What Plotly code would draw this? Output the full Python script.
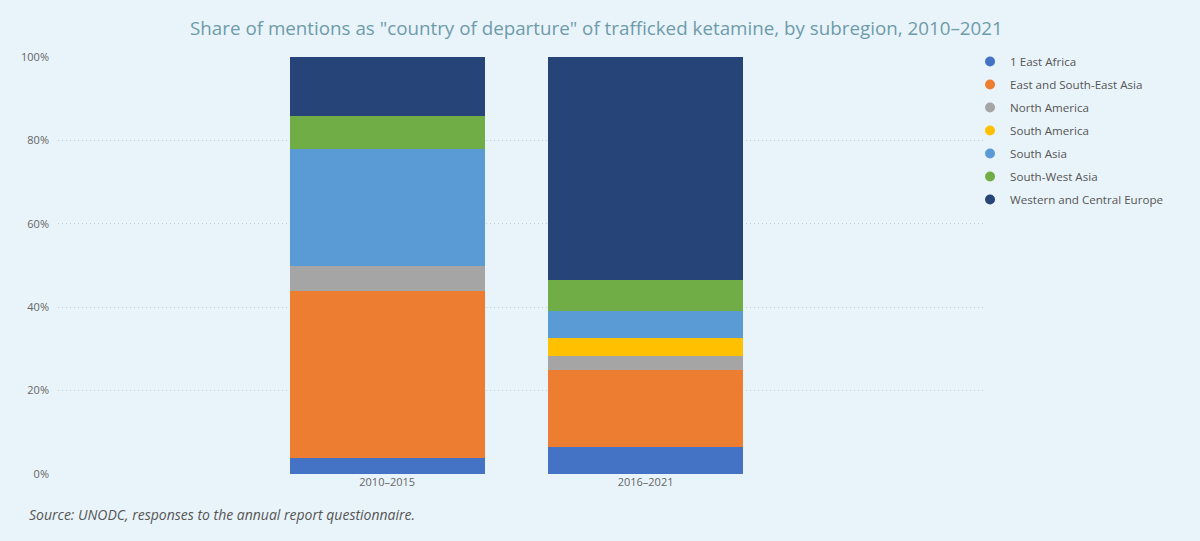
import plotly.graph_objects as go

periods = ["2010–2015", "2016–2021"]
subregions = ["1 East Africa", "East and South-East Asia", "North America", "South America",
              "South Asia", "South-West Asia", "Western and Central Europe"]
east_africa = [3.8, 6.4]
east_se_asia = [40.0, 18.6]
north_america = [6.1, 3.2]
south_america = [0, 4.4]
south_asia = [28.0, 6.4]
south_west_asia = [7.9, 7.6]
west_central_europe = [14.2, 53.4]
colors = ["#4472C4", "#ED7D31", "#A5A5A5", "#FFC000", "#5B9BD5", "#70AD47", "#264478"]

series = [east_africa, east_se_asia, north_america, south_america,
          south_asia, south_west_asia, west_central_europe]

fig = go.Figure()
for name, vals, col in zip(subregions, series, colors):
    fig.add_trace(go.Bar(x=periods, y=vals, name=name, marker_color=col,
                         marker_line_width=0, width=0.755, showlegend=False))
# legend entries with round markers
for i, (name, col) in enumerate(zip(subregions, colors)):
    fig.add_trace(go.Scatter(x=[None], y=[None], mode="markers", name=name,
                             legendgroup=str(i),
                             marker=dict(symbol="circle", size=10, color=col)))

bg = "#E9F4FA"
fig.update_layout(
    barmode="stack",
    width=1200, height=541,
    paper_bgcolor=bg, plot_bgcolor=bg,
    margin=dict(l=58, r=217, t=57, b=67),
    font=dict(family="Open Sans, Noto Sans, sans-serif", color="#666666", size=11),
    title=dict(text='Share of mentions as "country of departure" of trafficked ketamine, by subregion, 2010–2021',
               x=0.497, xanchor="center", y=0.948, yanchor="middle",
               font=dict(size=18.8, color="#6E9BAA")),
    legend=dict(x=0.986, xanchor="left", y=1.024, yanchor="top",
                font=dict(size=11.6, color="#555555"), tracegroupgap=4,
                bgcolor="rgba(0,0,0,0)", itemwidth=30),
    xaxis=dict(range=[-1.274, 2.306], showgrid=False, zeroline=False, showline=False,
               tickfont=dict(size=11, color="#666666")),
    yaxis=dict(range=[0, 100], ticksuffix="%", dtick=20, showgrid=True,
               gridcolor="#BFCDD6", griddash="1px,3px", gridwidth=1, zeroline=False,
               tickfont=dict(size=11, color="#666666"), ticklabelstandoff=8),
)
fig.add_annotation(text="Source: UNODC, responses to the annual report questionnaire.",
                   xref="paper", yref="paper", x=-0.034, y=-0.098, xanchor="left",
                   yanchor="middle", showarrow=False,
                   font=dict(size=14, color="#555555", family="Open Sans, sans-serif",
                             style="italic"))

# remove the default page margin so the figure fills the window
fig.write_html("out.html", config={"displayModeBar": False},
               post_script="document.body.style.margin='0';"
                           "document.body.style.background='" + bg + "';")
